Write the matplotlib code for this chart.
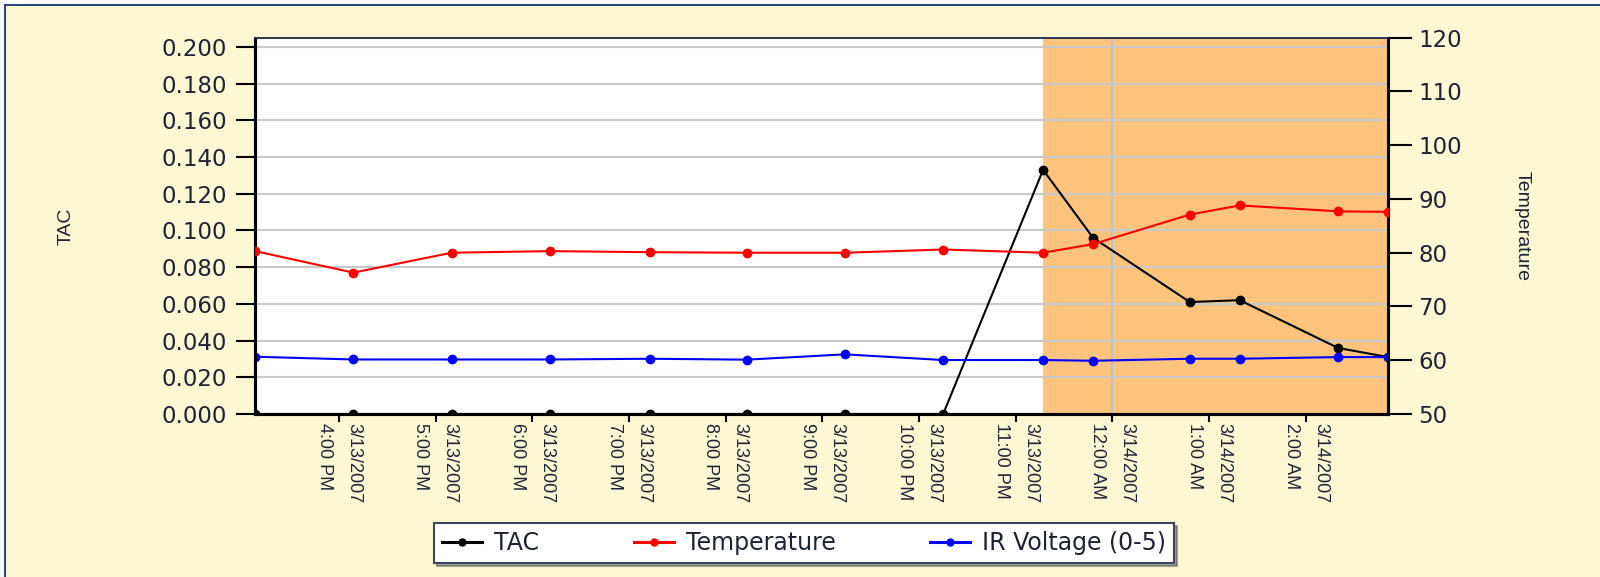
import datetime as dt

import matplotlib
matplotlib.use('Agg')
import matplotlib.pyplot as plt
from matplotlib import font_manager
from matplotlib.patches import Rectangle

# readings, 3/13/2007 afternoon to 3/14/2007 early morning
times = ['2007-03-13 15:08', '2007-03-13 16:09', '2007-03-13 17:10',
         '2007-03-13 18:11', '2007-03-13 19:13', '2007-03-13 20:13',
         '2007-03-13 21:14', '2007-03-13 22:15', '2007-03-13 23:17',
         '2007-03-13 23:48', '2007-03-14 00:48', '2007-03-14 01:19',
         '2007-03-14 02:20', '2007-03-14 02:51']
tac = [0.0, 0.0, 0.0, 0.0, 0.0, 0.0, 0.0, 0.0,
       0.133, 0.096, 0.061, 0.062, 0.036, 0.031]
temperature = [80.3, 76.3, 80.0, 80.3, 80.1, 80.0, 80.0, 80.6,
               80.0, 81.6, 87.1, 88.8, 87.7, 87.6]
ir_voltage = [0.0312, 0.0297, 0.0297, 0.0297, 0.0301, 0.0296, 0.0325, 0.0294,
              0.0294, 0.0290, 0.0301, 0.0301, 0.0310, 0.0310]
tick_times = ['2007-03-13 16:00', '2007-03-13 17:00', '2007-03-13 18:00',
              '2007-03-13 19:00', '2007-03-13 20:00', '2007-03-13 21:00',
              '2007-03-13 22:00', '2007-03-13 23:00', '2007-03-14 00:00',
              '2007-03-14 01:00', '2007-03-14 02:00']
alert_from = '2007-03-13 23:17'
day_line = '2007-03-14 00:00'

fmt = '%Y-%m-%d %H:%M'
x = [dt.datetime.strptime(t, fmt) for t in times]
xt = [dt.datetime.strptime(t, fmt) for t in tick_times]


def tick_label(d):
    h = d.hour % 12 or 12
    ampm = 'AM' if d.hour < 12 else 'PM'
    return f'{d.month}/{d.day}/{d.year}\n{h}:{d.minute:02d} {ampm}'


installed = {f.name for f in font_manager.fontManager.ttflist}
narrow = 'Liberation Sans Narrow' if 'Liberation Sans Narrow' in installed else 'Liberation Sans'

txt = '#1c2433'
bg = '#fbf8d3'

fig = plt.figure(figsize=(16, 5.77), dpi=100, facecolor='white')
fig.add_artist(Rectangle((5 / 1600, -0.1), 1.2, 1.1 - 5 / 577,
                         transform=fig.transFigure, facecolor=bg,
                         edgecolor='#2d4a78', lw=1.5, zorder=-10))

ax = fig.add_axes([255 / 1600, 1 - 414 / 577, 1133 / 1600, 376.3 / 577])
ax.set_facecolor('white')

# shaded alert period and day boundary
ax.axvspan(dt.datetime.strptime(alert_from, fmt), x[-1],
           color='#fec47e', zorder=0.1, lw=0)
ax.axvline(dt.datetime.strptime(day_line, fmt), color='#b9c3cc', lw=1.5, zorder=0.3)
ax.yaxis.grid(True, color='#c9c9c9', lw=1.5, zorder=0.3)
ax.set_axisbelow(True)

l1, = ax.plot(x, tac, color='black', lw=1.5, marker='o', ms=6, label='TAC', zorder=3)
l3, = ax.plot(x, ir_voltage, color='#0000ff', lw=1.5, marker='o', ms=6,
              label='IR Voltage (0-5)', zorder=4)

ax2 = ax.twinx()
l2, = ax2.plot(x, temperature, color='#ff0000', lw=1.5, marker='o', ms=6,
               label='Temperature', zorder=3)

ax.set_xlim(x[0], x[-1])
ax.set_ylim(0, 0.205)
ax2.set_ylim(50, 120)

ax.set_yticks([i * 0.02 for i in range(11)])
ax.yaxis.set_major_formatter(matplotlib.ticker.FormatStrFormatter('%.3f'))
ax2.set_yticks(range(50, 121, 10))

ax.set_xticks(xt, [tick_label(d) for d in xt], rotation=270,
              multialignment='left', family=narrow, fontsize=13, color=txt,
              linespacing=1.95)
ax.tick_params(axis='x', direction='out', length=6, width=1.5, pad=0.5)
ax.tick_params(axis='y', direction='out', length=14, width=1.5, pad=6,
               labelsize=16.5, labelcolor=txt)
ax2.tick_params(axis='y', direction='out', length=17, width=1.5, pad=5,
                labelsize=16.5, labelcolor=txt)

for a in (ax, ax2):
    for side in ('left', 'bottom', 'right'):
        a.spines[side].set_linewidth(2.2)
        a.spines[side].set_color('black')
    a.spines['top'].set_linewidth(1.2)
    a.spines['top'].set_color('#2a3550')

fig.text(66 / 1600, 1 - 226 / 577, 'TAC', rotation=90, ha='center', va='center',
         family=narrow, fontsize=14, color=txt)
fig.text(1522 / 1600, 1 - 226 / 577, 'Temperature', rotation=270, ha='center',
         va='center', family=narrow, fontsize=14, color=txt)

leg = fig.legend([l1, l2, l3], ['TAC', 'Temperature', 'IR Voltage (0-5)'],
                 loc='center', bbox_to_anchor=(804 / 1600, 1 - 543 / 577),
                 ncol=3, frameon=True, fancybox=False, shadow=True,
                 fontsize=17, handlelength=1.7, columnspacing=4.0,
                 borderpad=0.35, handletextpad=0.5, numpoints=1)
leg.get_frame().set_edgecolor('#3b4660')
leg.get_frame().set_linewidth(1.5)
for t in leg.get_texts():
    t.set_color(txt)
for h in leg.legend_handles:
    h.set_markersize(5)
    h.set_linewidth(2.2)

fig.savefig('out.png', dpi=100, facecolor=fig.get_facecolor())
